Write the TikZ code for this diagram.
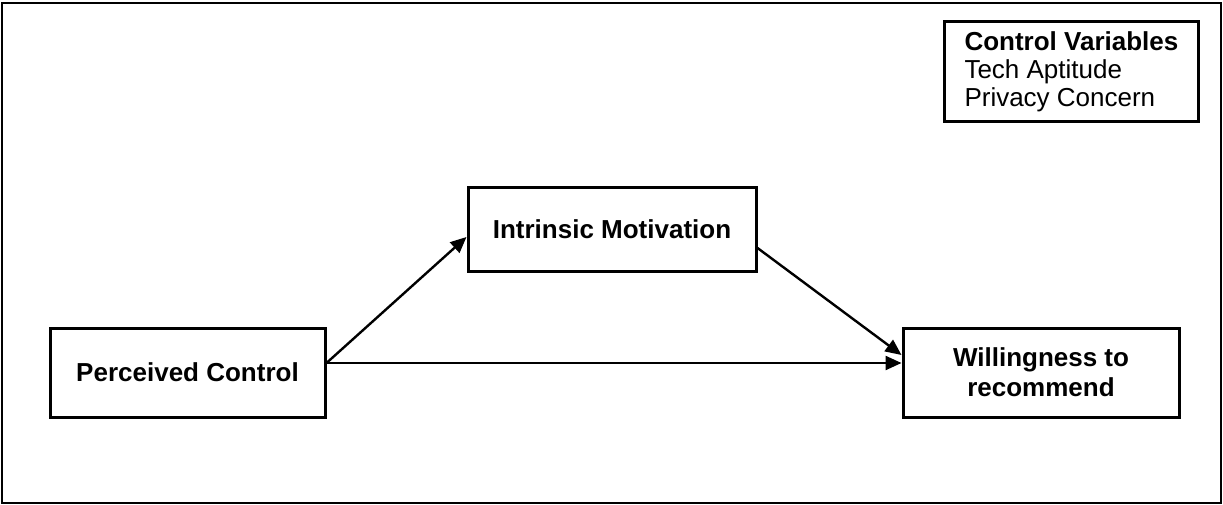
\documentclass[tikz,border=0pt]{standalone}
\usepackage{fontspec}
\setmainfont{Liberation Sans}
\usetikzlibrary{arrows.meta}

\tikzset{
  frame/.style={draw=black, line width=2.2pt},
  varbox/.style={draw=black, line width=3pt, inner sep=0pt, align=center,
    font=\bfseries\fontsize{26}{30}\selectfont},
  notebox/.style={draw=black, line width=3pt, inner xsep=20pt, inner ysep=0pt,
    align=left, font=\fontsize{26}{28}\selectfont},
  path/.style={draw=black, line width=2.4pt, -{Triangle[length=16pt,width=14pt]}}
}

\begin{document}
\begin{tikzpicture}[x=1pt, y=-1pt]
  % page extent and outer frame
  \useasboundingbox (0,0) rectangle (1223,505);
  \draw[frame] (2,3) rectangle (1221,503);

  % constructs
  \node[varbox, minimum width=275pt, minimum height=89pt] (pc) at (187.5,372.5) {Perceived Control};
  \node[varbox, minimum width=288pt, minimum height=83pt] (im) at (612,229.5) {Intrinsic Motivation};
  \node[varbox, minimum width=276pt, minimum height=89pt] (wr) at (1041,372.5) {Willingness to\\recommend};

  % control variables
  \node[notebox, anchor=north west, minimum height=100pt] (cv) at (943,20)
    {\textbf{Control Variables}\\Tech Aptitude\\Privacy Concern};

  % paths
  \draw[path] ([yshift=9.5pt]pc.east) -- ([yshift=-7.5pt]im.west);
  \draw[path] ([yshift=-18.5pt]im.east) -- ([yshift=17.5pt]wr.west);
  \draw[path] ([yshift=9.5pt]pc.east) -- ([yshift=9.5pt]wr.west);
\end{tikzpicture}
\end{document}
